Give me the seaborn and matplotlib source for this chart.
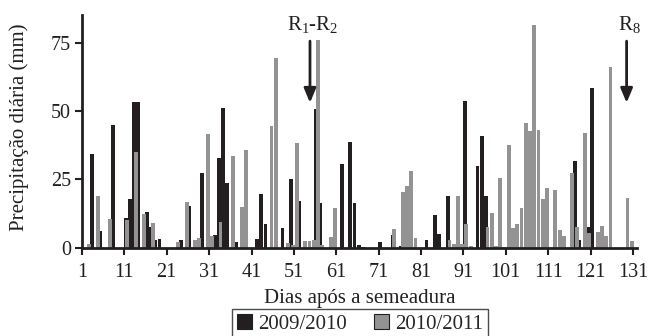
import numpy as np
import pandas as pd
import matplotlib
matplotlib.use('Agg')
import matplotlib.pyplot as plt
from matplotlib.patches import Patch
import seaborn as sns

# Precipitação diária (mm) por dia após a semeadura
dias_0910 = [3, 5, 8, 11, 12, 13, 14, 16, 17, 18, 19, 24, 26, 29, 32, 33, 34, 35,
             37, 42, 43, 44, 48, 50, 52, 56, 57, 62, 64, 65, 66, 67, 71, 74, 76,
             77, 78, 82, 84, 85, 87, 91, 94, 95, 96, 98, 117, 118, 120, 121]
mm_0910 = [34.3, 6.2, 44.9, 11.0, 17.9, 53.2, 53.2, 13.0, 7.7, 2.8, 3.3, 2.8,
           15.5, 27.5, 4.8, 32.8, 51.1, 23.7, 2.3, 3.3, 19.8, 8.8, 7.2, 25.2,
           17.1, 50.6, 16.4, 30.5, 38.7, 16.4, 1.1, 0.5, 2.0, 4.8, 0.8, 12.0,
           3.5, 2.9, 12.1, 5.0, 18.8, 53.6, 29.9, 40.9, 18.8, 0.9, 31.9, 2.9,
           7.7, 58.4]

dias_1011 = [2, 4, 7, 11, 13, 15, 17, 23, 25, 27, 28, 30, 31, 33, 36, 38, 39, 45,
             46, 49, 50, 51, 53, 54, 55, 56, 57, 59, 60, 74, 76, 77, 78, 79, 87,
             88, 89, 90, 91, 92, 96, 97, 98, 99, 100, 101, 102, 103, 104, 105,
             106, 107, 108, 109, 110, 112, 113, 114, 116, 117, 119, 120, 122,
             123, 124, 125, 129, 130]
mm_1011 = [1.3, 18.8, 10.6, 10.2, 34.9, 12.4, 9.1, 2.3, 16.8, 2.8, 3.8, 41.6,
           4.4, 9.6, 33.4, 15.1, 35.8, 44.5, 69.5, 1.8, 1.2, 38.2, 2.5, 2.5,
           2.8, 76.0, 1.0, 3.9, 14.6, 6.8, 20.4, 22.7, 28.1, 3.5, 2.9, 1.3,
           18.8, 1.5, 8.7, 0.6, 7.8, 12.6, 0.6, 25.5, 0.5, 37.7, 7.3, 8.8,
           14.6, 45.5, 42.7, 81.3, 43.0, 17.9, 22.0, 21.0, 6.5, 4.5, 27.5,
           7.7, 42.0, 5.5, 6.0, 8.2, 4.5, 66.1, 18.3, 2.4]

safras = ['2009/2010', '2010/2011']
cores = ['#231f20', '#939393']

estadios = ['R$_1$-R$_2$', 'R$_8$']
dias_estadio = [54.8, 129.5]

sns.set_style('ticks')
plt.rcParams['font.family'] = ['Liberation Serif', 'DejaVu Serif']
plt.rcParams['mathtext.default'] = 'regular'

todos = np.arange(1, 132)


def serie(dias, mm, desloc):
    s = pd.Series(0.0, index=todos)
    s.loc[dias] = mm
    return pd.DataFrame({'pos': todos + desloc, 'mm': s.values})


fig = plt.figure(figsize=(6.61, 3.36), dpi=100)
ax = fig.add_axes([0.124, 0.262, 0.840, 0.693])

df_a = serie(dias_0910, mm_0910, 0.3)
df_b = serie(dias_1011, mm_1011, 0.7)
sns.barplot(data=df_a, x='pos', y='mm', native_scale=True, width=0.9,
            color=cores[0], saturation=1, errorbar=None, linewidth=0, ax=ax)
sns.barplot(data=df_b, x='pos', y='mm', native_scale=True, width=0.9,
            color=cores[1], saturation=1, errorbar=None, linewidth=0, ax=ax)

ax.set_xlim(1, 132)
ax.set_ylim(0, 85)
ax.set_xticks(np.arange(1, 132, 10))
ax.set_xticklabels([str(v) for v in range(1, 132, 10)])
ax.set_yticks([0, 25, 50, 75])
ax.tick_params(axis='both', labelsize=14.5, width=1.5, length=5, color='#231f20',
               labelcolor='#231f20')
ax.tick_params(axis='x', pad=6)
ax.tick_params(axis='y', pad=3)
for side in ['left', 'bottom']:
    ax.spines[side].set_linewidth(2)
    ax.spines[side].set_color('#231f20')
sns.despine(ax=ax)

ax.set_xlabel('Dias após a semeadura', fontsize=15, color='#231f20', labelpad=5)
ax.set_ylabel('Precipitação diária (mm)', fontsize=15, color='#231f20')
ax.yaxis.set_label_coords(-0.095, 0.52)

for txt, d in zip(estadios, dias_estadio):
    ax.annotate('', xy=(d, 53), xytext=(d, 75.5),
                arrowprops=dict(arrowstyle='-|>,head_width=0.36,head_length=0.86',
                                lw=2, color='#231f20', mutation_scale=10,
                                shrinkA=0, shrinkB=0))
    ax.text(d + 0.6, 81.6, txt, ha='center', va='center', fontsize=15,
            color='#231f20', clip_on=False)

handles = [Patch(facecolor=c, edgecolor='#231f20', linewidth=0.8, label=s)
           for c, s in zip(cores, safras)]
leg = fig.legend(handles=handles, loc='center', bbox_to_anchor=(0.545, 0.035),
                 ncol=2, frameon=True, fancybox=False, fontsize=15,
                 handlelength=0.7, handleheight=0.7, handletextpad=0.3,
                 columnspacing=1.3, borderpad=0.25)
leg.get_frame().set_edgecolor('#231f20')
leg.get_frame().set_linewidth(1)

fig.savefig('out.png', dpi=100)
